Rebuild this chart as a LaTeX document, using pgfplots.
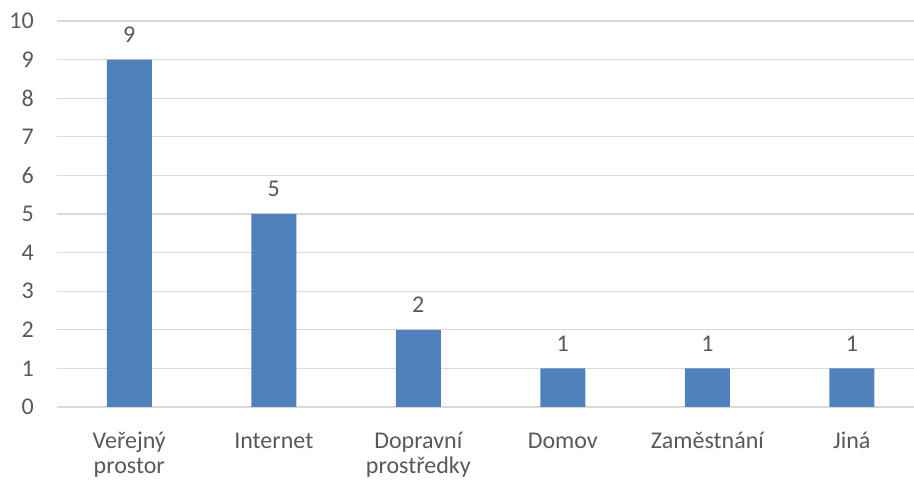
\documentclass[border=0pt]{standalone}
\usepackage{pgfplots}
\pgfplotsset{compat=1.18}
\usepackage{fontspec}
\setmainfont{Carlito}
\definecolor{barblue}{HTML}{4F81BD}
\definecolor{gridgray}{HTML}{D9D9D9}
\definecolor{txtgray}{HTML}{595959}
\newcommand{\st}{\rule{0pt}{18pt}}
\begin{document}
\begin{tikzpicture}[x=1pt,y=1pt]
\useasboundingbox (-57,-74) rectangle (857,407);
\begin{axis}[
  at={(0,0)}, anchor=south west,
  scale only axis,
  width=857pt, height=386pt,
  xmin=-0.5, xmax=5.43,
  ymin=0, ymax=10,
  ytick={0,1,...,10},
  xtick={0,1,2,3,4,5},
  xticklabels={{\st Veřejný\\prostor},\st Internet,{\st Dopravní\\prostředky},\st Domov,\st Zaměstnání,\st Jiná},
  axis line style={draw=none},
  major tick length=0pt,
  ymajorgrids,
  grid style={gridgray, line width=1.3pt},
  tick label style={font=\fontsize{24}{25}\selectfont, text=txtgray},
  /pgf/number format/assume math mode=true,
  yticklabel style={inner sep=0pt, xshift=-23pt},
  xticklabel style={align=center, inner sep=0pt, anchor=north, yshift=-23pt},
  ybar, bar width=45pt,
  nodes near coords,
  every node near coord/.append style={font=\fontsize{24}{25}\selectfont, text=txtgray, inner sep=2pt, yshift=15pt},
  clip=false,
]
\addplot[fill=barblue, draw=none] coordinates {(0,9) (1,5) (2,2) (3,1) (4,1) (5,1)};
\end{axis}
\end{tikzpicture}
\end{document}
